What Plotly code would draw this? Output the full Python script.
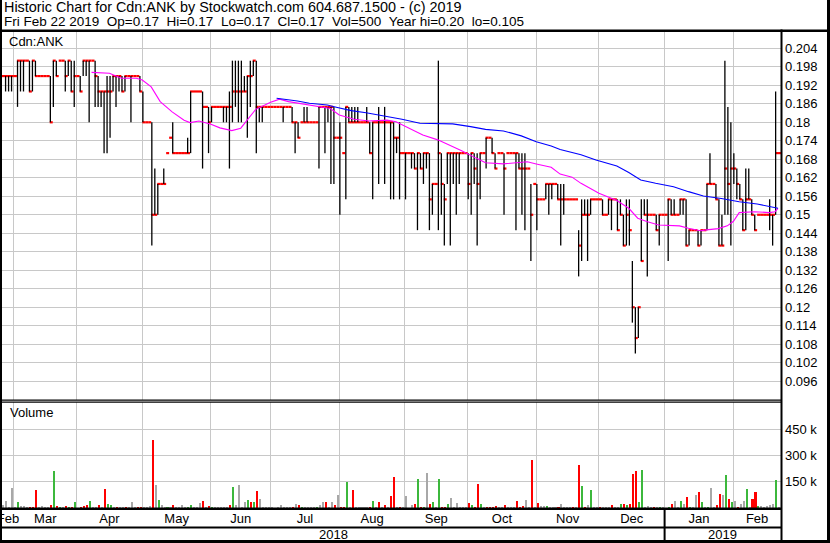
import plotly.graph_objects as go

# ---------------- data (one entry per weekday, Feb 23 2018 .. Feb 22 2019) ----------------
close = [
    0.195, 0.195, 0.195, 0.195, 0.195, 0.20, 0.20, 0.20, 0.20, 0.19,
    0.20, 0.195, 0.195, 0.195, 0.195, 0.195, 0.18, 0.20, 0.195, 0.20,
    0.20, 0.195, 0.20, 0.19, 0.195, 0.195, 0.19, 0.20, 0.20, 0.20,
    0.20, 0.195, 0.19, 0.19, 0.19, 0.19, 0.19, 0.195, 0.195, 0.195,
    0.19, 0.195, 0.195, 0.195, 0.195, 0.195, 0.19, 0.18, 0.18, 0.18,
    0.15, 0.15, 0.16, 0.16, 0.16, 0.17, 0.175, 0.17, 0.17, 0.17,
    0.17, 0.17, 0.17, 0.19, 0.19, 0.19, 0.19, 0.185, 0.185, 0.18,
    0.185, 0.185, 0.185, 0.185, 0.185, 0.185, 0.185, 0.19, 0.19, 0.19,
    0.19, 0.19, 0.195, 0.195, 0.20, 0.185, 0.185, 0.185, 0.185, 0.185,
    0.185, 0.185, 0.185, 0.185, 0.185, 0.185, 0.185, 0.18, 0.18, 0.175,
    0.18, 0.18, 0.18, 0.18, 0.18, 0.18, 0.185, 0.185, 0.185, 0.185,
    0.185, 0.175, 0.175, 0.175, 0.17, 0.185, 0.18, 0.18, 0.18, 0.18,
    0.18, 0.18, 0.18, 0.17, 0.18, 0.18, 0.18, 0.18, 0.18, 0.18,
    0.18, 0.175, 0.175, 0.17, 0.17, 0.17, 0.17, 0.17, 0.165, 0.17,
    0.165, 0.17, 0.17, 0.155, 0.16, 0.16, 0.17, 0.16, 0.155, 0.17,
    0.17, 0.17, 0.17, 0.17, 0.17, 0.17, 0.16, 0.17, 0.165, 0.16,
    0.17, 0.17, 0.175, 0.175, 0.17, 0.165, 0.17, 0.17, 0.165, 0.17,
    0.17, 0.17, 0.17, 0.165, 0.165, 0.165, 0.165, 0.15, 0.16, 0.155,
    0.155, 0.155, 0.16, 0.16, 0.16, 0.16, 0.155, 0.155, 0.155, 0.155,
    0.155, 0.155, 0.155, 0.14, 0.15, 0.15, 0.15, 0.155, 0.155, 0.155,
    0.155, 0.15, 0.15, 0.155, 0.155, 0.155, 0.145, 0.15, 0.14, 0.15,
    0.145, 0.12, 0.11, 0.12, 0.135, 0.15, 0.15, 0.15, 0.15, 0.145,
    0.15, 0.15, 0.15, 0.155, 0.15, 0.15, 0.15, 0.155, 0.155, 0.14,
    0.145, 0.145, 0.145, 0.14, 0.145, 0.145, 0.16, 0.16, 0.16, 0.155,
    0.14, 0.14, 0.165, 0.16, 0.165, 0.165, 0.16, 0.155, 0.145, 0.155,
    0.155, 0.15, 0.145, 0.15, 0.15, 0.15, 0.15, 0.15, 0.15, 0.17,
    0.17,
]
high = [
    0.195, 0.195, 0.195, 0.195, 0.195, 0.20, 0.20, 0.20, 0.20, 0.20,
    0.20, 0.20, 0.195, 0.195, 0.195, 0.195, 0.195, 0.20, 0.20, 0.20,
    0.20, 0.20, 0.20, 0.20, 0.20, 0.195, 0.195, 0.20, 0.20, 0.20,
    0.20, 0.20, 0.195, 0.19, 0.19, 0.195, 0.195, 0.195, 0.195, 0.195,
    0.195, 0.195, 0.195, 0.195, 0.195, 0.195, 0.195, 0.19, 0.18, 0.18,
    0.18, 0.165, 0.16, 0.16, 0.165, 0.17, 0.175, 0.18, 0.17, 0.17,
    0.17, 0.17, 0.175, 0.19, 0.19, 0.19, 0.19, 0.19, 0.185, 0.185,
    0.185, 0.185, 0.185, 0.185, 0.185, 0.185, 0.19, 0.20, 0.20, 0.20,
    0.20, 0.195, 0.195, 0.20, 0.20, 0.20, 0.185, 0.185, 0.185, 0.185,
    0.185, 0.185, 0.185, 0.185, 0.185, 0.185, 0.185, 0.185, 0.18, 0.18,
    0.18, 0.185, 0.185, 0.18, 0.18, 0.18, 0.185, 0.185, 0.185, 0.185,
    0.185, 0.185, 0.175, 0.18, 0.17, 0.185, 0.185, 0.185, 0.185, 0.185,
    0.18, 0.18, 0.185, 0.18, 0.18, 0.18, 0.185, 0.18, 0.185, 0.18,
    0.18, 0.18, 0.175, 0.18, 0.17, 0.17, 0.17, 0.17, 0.17, 0.17,
    0.17, 0.17, 0.17, 0.17, 0.16, 0.16, 0.20, 0.17, 0.16, 0.17,
    0.17, 0.17, 0.17, 0.17, 0.17, 0.17, 0.17, 0.17, 0.17, 0.17,
    0.17, 0.17, 0.175, 0.175, 0.175, 0.17, 0.17, 0.17, 0.17, 0.17,
    0.17, 0.17, 0.17, 0.17, 0.17, 0.17, 0.165, 0.16, 0.16, 0.16,
    0.155, 0.155, 0.16, 0.16, 0.16, 0.16, 0.16, 0.16, 0.16, 0.155,
    0.155, 0.155, 0.155, 0.145, 0.155, 0.155, 0.155, 0.155, 0.155, 0.155,
    0.155, 0.155, 0.15, 0.155, 0.155, 0.155, 0.155, 0.155, 0.15, 0.155,
    0.155, 0.135, 0.12, 0.12, 0.155, 0.155, 0.155, 0.15, 0.15, 0.15,
    0.15, 0.15, 0.15, 0.155, 0.155, 0.155, 0.15, 0.155, 0.155, 0.155,
    0.145, 0.145, 0.145, 0.145, 0.145, 0.145, 0.16, 0.17, 0.16, 0.16,
    0.155, 0.15, 0.20, 0.185, 0.18, 0.17, 0.165, 0.16, 0.155, 0.165,
    0.165, 0.155, 0.15, 0.15, 0.15, 0.15, 0.15, 0.155, 0.15, 0.19,
    0.17,
]
low = [
    0.195, 0.19, 0.19, 0.19, 0.195, 0.185, 0.19, 0.19, 0.20, 0.19,
    0.19, 0.195, 0.195, 0.195, 0.195, 0.195, 0.18, 0.185, 0.195, 0.20,
    0.20, 0.19, 0.195, 0.19, 0.185, 0.195, 0.19, 0.195, 0.195, 0.18,
    0.20, 0.185, 0.185, 0.185, 0.17, 0.17, 0.175, 0.19, 0.185, 0.19,
    0.19, 0.19, 0.195, 0.18, 0.195, 0.195, 0.19, 0.18, 0.18, 0.18,
    0.14, 0.15, 0.15, 0.16, 0.16, 0.17, 0.175, 0.17, 0.17, 0.17,
    0.17, 0.17, 0.17, 0.17, 0.19, 0.19, 0.19, 0.165, 0.185, 0.17,
    0.18, 0.185, 0.185, 0.185, 0.18, 0.18, 0.165, 0.18, 0.185, 0.18,
    0.18, 0.19, 0.175, 0.185, 0.195, 0.17, 0.18, 0.18, 0.185, 0.185,
    0.185, 0.185, 0.185, 0.185, 0.18, 0.185, 0.185, 0.18, 0.17, 0.175,
    0.18, 0.18, 0.18, 0.18, 0.18, 0.18, 0.165, 0.185, 0.17, 0.18,
    0.16, 0.16, 0.175, 0.15, 0.17, 0.155, 0.18, 0.18, 0.18, 0.18,
    0.18, 0.18, 0.18, 0.17, 0.155, 0.18, 0.16, 0.18, 0.16, 0.18,
    0.155, 0.155, 0.17, 0.155, 0.17, 0.155, 0.17, 0.165, 0.165, 0.145,
    0.165, 0.16, 0.165, 0.145, 0.15, 0.16, 0.145, 0.15, 0.14, 0.16,
    0.14, 0.16, 0.15, 0.16, 0.17, 0.17, 0.155, 0.15, 0.16, 0.14,
    0.155, 0.17, 0.165, 0.175, 0.17, 0.165, 0.17, 0.17, 0.15, 0.17,
    0.17, 0.17, 0.145, 0.165, 0.15, 0.145, 0.165, 0.135, 0.16, 0.145,
    0.155, 0.155, 0.155, 0.15, 0.155, 0.16, 0.155, 0.14, 0.15, 0.155,
    0.155, 0.155, 0.155, 0.13, 0.135, 0.15, 0.135, 0.15, 0.155, 0.155,
    0.155, 0.15, 0.15, 0.15, 0.145, 0.155, 0.145, 0.15, 0.14, 0.14,
    0.14, 0.115, 0.105, 0.11, 0.135, 0.15, 0.13, 0.15, 0.15, 0.145,
    0.14, 0.15, 0.15, 0.135, 0.15, 0.15, 0.15, 0.15, 0.15, 0.14,
    0.14, 0.145, 0.145, 0.14, 0.14, 0.145, 0.145, 0.16, 0.16, 0.155,
    0.14, 0.14, 0.15, 0.15, 0.14, 0.16, 0.155, 0.155, 0.145, 0.145,
    0.155, 0.15, 0.145, 0.15, 0.15, 0.15, 0.15, 0.145, 0.14, 0.15,
    0.17,
]
volume_k = [
    20, 38, 5, 115, 5, 34, 13, 13, 4, 4,
    4, 105, 5, 8, 5, 5, 19, 214, 13, 5,
    5, 6, 5, 5, 32, 0, 5, 6, 19, 38,
    5, 5, 19, 5, 111, 25, 19, 5, 5, 5,
    5, 5, 5, 32, 5, 4, 5, 5, 5, 8,
    391, 134, 48, 19, 5, 5, 4, 19, 5, 5,
    19, 5, 5, 19, 5, 5, 29, 38, 5, 13,
    5, 5, 5, 5, 5, 5, 19, 118, 19, 130,
    5, 36, 48, 36, 32, 99, 53, 5, 5, 5,
    5, 0, 5, 19, 5, 5, 5, 5, 25, 19,
    5, 5, 5, 5, 5, 5, 19, 36, 34, 5,
    36, 19, 76, 5, 5, 149, 5, 105, 5, 5,
    5, 5, 5, 5, 42, 5, 32, 5, 19, 5,
    71, 179, 5, 5, 5, 67, 0, 19, 25, 168,
    5, 5, 200, 25, 34, 5, 168, 5, 5, 25,
    57, 5, 29, 5, 5, 5, 29, 19, 3, 137,
    25, 5, 4, 3, 3, 13, 5, 5, 19, 5,
    5, 5, 42, 5, 13, 48, 5, 277, 5, 29,
    13, 13, 13, 5, 5, 5, 5, 25, 5, 5,
    5, 5, 5, 248, 128, 5, 19, 105, 5, 5,
    5, 5, 5, 5, 19, 5, 5, 25, 25, 19,
    25, 197, 214, 32, 220, 5, 13, 5, 5, 5,
    5, 5, 0, 5, 25, 38, 5, 38, 25, 61,
    5, 5, 76, 90, 36, 5, 5, 115, 5, 19,
    82, 76, 191, 53, 32, 38, 5, 25, 38, 111,
    5, 53, 90, 13, 13, 5, 13, 19, 25, 162,
    0.5,
]
# volume bar direction: r = down, g = up, n = unchanged
vol_dir = list(
    "nnnnngnnnr" "rrnnnnrgrg" "nrgrgnrrrg" "nnrnrggnrn" "nrnnnrrnnn"
    "rngnngnrnn" "nnggnnnrnr" "gnnnnnrgnn" "nngrgrnnnn" "nnnnnnnrnr"
    "gnnnngnnrn" "nrnrrgnrnn" "nnnrgnrnrn" "rrnrnnnnrg" "rgnrgngrrg"
    "nnnnnnrgrr" "gnrrrrnnrn" "nnrrrnnrnr" "nngnnnrnnn" "nrnrgrngnn"
    "rnnnrnngrg" "rrrggnnnrn" "gnngrnngnr" "gnnrgngnnr" "rngrgnrnng"
    "nrrgnnnnng" "n"
)

# moving averages (x = weekday index, y = price)
ma_short_day = [30, 36, 40, 45, 47, 50, 53, 57, 61, 63, 66, 70, 73, 77, 80, 82, 85, 90, 93, 96,
                101, 104, 110, 113, 118, 123, 129, 132, 137, 141, 146, 150, 154, 159, 162, 168,
                174, 176, 179, 184, 187, 191, 194, 200, 206, 210, 213, 216, 220, 227, 230, 234,
                236, 240, 243, 245, 247, 252, 257, 259, 260]
ma_short_val = [0.1962, 0.1959, 0.1943, 0.1943, 0.1937, 0.1915, 0.1867, 0.1834, 0.1807, 0.1799,
                0.1804, 0.1794, 0.1782, 0.1773, 0.1781, 0.1807, 0.1842, 0.1865, 0.1875, 0.1867,
                0.1859, 0.1853, 0.1845, 0.1824, 0.181, 0.1804, 0.1807, 0.1802, 0.1778, 0.1759,
                0.1743, 0.1726, 0.1708, 0.1683, 0.1669, 0.1665, 0.1669, 0.1672, 0.1665, 0.1654,
                0.1632, 0.1622, 0.1602, 0.157, 0.1546, 0.1521, 0.1489, 0.1478, 0.1467, 0.1464,
                0.1456, 0.1448, 0.1451, 0.1455, 0.1464, 0.1478, 0.1507, 0.151, 0.1507, 0.151,
                0.1521]
ma_long_day = [92, 95, 99, 103, 109, 112, 117, 122, 129, 134, 140, 146, 151, 157, 162, 168, 174,
               179, 184, 187, 194, 199, 206, 210, 214, 219, 225, 230, 235, 241, 247, 253, 258, 260]
ma_long_val = [0.1878, 0.1875, 0.1869, 0.1862, 0.1856, 0.1849, 0.1838, 0.1831, 0.182, 0.181,
               0.1797, 0.1795, 0.1795, 0.1786, 0.1777, 0.1772, 0.1756, 0.1737, 0.1723, 0.1712,
               0.1695, 0.1678, 0.1658, 0.1637, 0.1613, 0.1602, 0.1591, 0.1575, 0.1561, 0.1553,
               0.1542, 0.1535, 0.1526, 0.1521]

month_names = ["Feb", "Mar", "Apr", "May", "Jun", "Jul", "Aug", "Sep", "Oct", "Nov", "Dec", "Jan", "Feb"]
month_bounds = [0, 4, 25, 47, 70, 90, 113, 135, 156, 179, 200, 222, 245, 261]
year_names = ["2018", "2019"]
year_bounds = [0, 222, 261]

price_ticks = [0.096, 0.102, 0.108, 0.114, 0.12, 0.126, 0.132, 0.138, 0.144, 0.15,
               0.156, 0.162, 0.168, 0.174, 0.18, 0.186, 0.192, 0.198, 0.204]
price_labels = ["0.096", "0.102", "0.108", "0.114", "0.12", "0.126", "0.132", "0.138", "0.144", "0.15",
                "0.156", "0.162", "0.168", "0.174", "0.18", "0.186", "0.192", "0.198", "0.204"]
vol_ticks = [150, 300, 450]
vol_labels = ["150 k", "300 k", "450 k"]

title1 = "Historic Chart for Cdn:ANK by Stockwatch.com 604.687.1500 - (c) 2019"
title2 = ("Fri Feb 22 2019\u00a0\u00a0Op=0.17\u00a0\u00a0Hi=0.17\u00a0\u00a0Lo=0.17\u00a0\u00a0Cl=0.17"
          "\u00a0\u00a0Vol=500\u00a0\u00a0Year hi=0.20\u00a0\u00a0lo=0.105")

# ---------------- styling ----------------
W, H = 830, 543
FAMILY = "Liberation Sans, Arial, sans-serif"
FONT = dict(family=FAMILY, size=13, color="black")
GRID = "#c8c8c8"
DIR_COLOR = {"r": "#ff0000", "g": "#3cb83c", "n": "#a8a8a8"}


def fx(p):
    return p / W


def fy(p):
    return 1 - p / H


days = list(range(len(close)))

tick_x, tick_y = [], []
for d, c in zip(days, close):
    tick_x += [d, d + 1, None]
    tick_y += [c, c, None]

bar_x, bar_y = [], []
for d, h, l in zip(days, high, low):
    if h > l:
        bar_x += [d + 0.2, d + 0.2, None]
        bar_y += [l, h, None]

fig = go.Figure()
fig.add_trace(go.Scatter(x=tick_x, y=tick_y, mode="lines", line=dict(color="#ff0000", width=2.2),
                         hoverinfo="skip", xaxis="x", yaxis="y"))
fig.add_trace(go.Scatter(x=bar_x, y=bar_y, mode="lines", line=dict(color="black", width=1.3),
                         hoverinfo="skip", xaxis="x", yaxis="y"))
fig.add_trace(go.Scatter(x=ma_short_day, y=ma_short_val, mode="lines",
                         line=dict(color="#ff00ff", width=1.1), xaxis="x", yaxis="y"))
fig.add_trace(go.Scatter(x=ma_long_day, y=ma_long_val, mode="lines",
                         line=dict(color="#0000ff", width=1.1), xaxis="x", yaxis="y"))
fig.add_trace(go.Bar(x=[d + 0.45 for d in days], y=volume_k, width=0.68,
                     marker=dict(color=[DIR_COLOR[k] for k in vol_dir], line=dict(width=0)),
                     xaxis="x2", yaxis="y2"))

x_dom = [fx(2), fx(781)]
mids = [(a + b) / 2 for a, b in zip(month_bounds[:-1], month_bounds[1:])]

fig.update_layout(
    width=W, height=H, margin=dict(l=0, r=0, t=0, b=0),
    paper_bgcolor="white", plot_bgcolor="white", showlegend=False, bargap=0,
    font=FONT,
    xaxis=dict(domain=x_dom, range=[0, 261], anchor="y", tickmode="array",
               tickvals=month_bounds[1:-1], showticklabels=False, ticks="",
               showgrid=True, gridcolor=GRID, gridwidth=1, zeroline=False, showline=False,
               automargin=False),
    yaxis=dict(domain=[fy(400), fy(32)], range=[0.0899, 0.2093], side="right", anchor="x",
               tickmode="array", tickvals=price_ticks, ticktext=price_labels, ticks="",
               showgrid=True, gridcolor=GRID, gridwidth=1, zeroline=False, showline=False,
               ticklabelstandoff=3, tickfont=FONT, automargin=False),
    xaxis2=dict(domain=x_dom, range=[0, 261], anchor="y2", tickmode="array",
                tickvals=mids, ticktext=month_names, ticks="", showgrid=False,
                minor=dict(tickmode="array", tickvals=month_bounds[1:-1], showgrid=True,
                           gridcolor=GRID, gridwidth=1, ticks=""),
                zeroline=False, showline=False, tickfont=FONT, ticklabelstandoff=1,
                ticklabeloverflow="allow", automargin=False),
    yaxis2=dict(domain=[fy(508), fy(402)], range=[0, 607], side="right", anchor="x2",
                tickmode="array", tickvals=vol_ticks, ticktext=vol_labels, ticks="",
                showgrid=True, gridcolor=GRID, gridwidth=1, zeroline=False, showline=False,
                ticklabelstandoff=3, tickfont=FONT, automargin=False),
)

# frame / separators (paper-pixel layout lines)
def rect(x0, y0, x1, y1):
    return dict(type="rect", xref="paper", yref="paper", x0=fx(x0), x1=fx(x1), y0=fy(y1), y1=fy(y0),
                fillcolor="black", line=dict(width=0), layer="above")

shapes = [
    rect(0, 29.5, W, 32),       # under header
    rect(0, 0, 2, H),           # left frame
    rect(827, 0, W, H),         # right frame
    rect(0, 540, W, H),         # bottom frame
    rect(780.5, 29.5, 782.5, 541),  # right edge of plots
    rect(0, 399.5, 781, 400.7),     # double separator
    rect(0, 401.6, 781, 402.8),
    rect(0, 507.5, 781, 510),       # volume base line
    rect(0, 526.5, 781, 528.5),     # month / year separator
]
shapes.append(dict(type="line", xref="x2", yref="paper", x0=year_bounds[1], x1=year_bounds[1],
                   y0=fy(509), y1=fy(541), line=dict(color="black", width=2), layer="above"))
fig.update_layout(shapes=shapes)

ann = [
    dict(text=title1, x=fx(2), y=fy(7), xanchor="left", yanchor="middle",
         font=dict(family=FAMILY, size=14.4, color="black")),
    dict(text=title2, x=fx(2), y=fy(21), xanchor="left", yanchor="middle",
         font=dict(family=FAMILY, size=13.5, color="black")),
    dict(text="Cdn:ANK", x=fx(7), y=fy(41), xanchor="left", yanchor="middle", font=FONT),
    dict(text="Volume", x=fx(8), y=fy(413), xanchor="left", yanchor="middle", font=FONT),
]
for a in ann:
    a.update(xref="paper", yref="paper", showarrow=False)
for name, a, b in zip(year_names, year_bounds[:-1], year_bounds[1:]):
    ann.append(dict(text=name, x=(a + b) / 2, xref="x2", y=fy(534), yref="paper",
                    xanchor="center", yanchor="middle", showarrow=False, font=FONT))
fig.update_layout(annotations=ann)

fig.write_html("out.html", config={"displayModeBar": False},
               post_script="document.body.style.margin='0px';")
